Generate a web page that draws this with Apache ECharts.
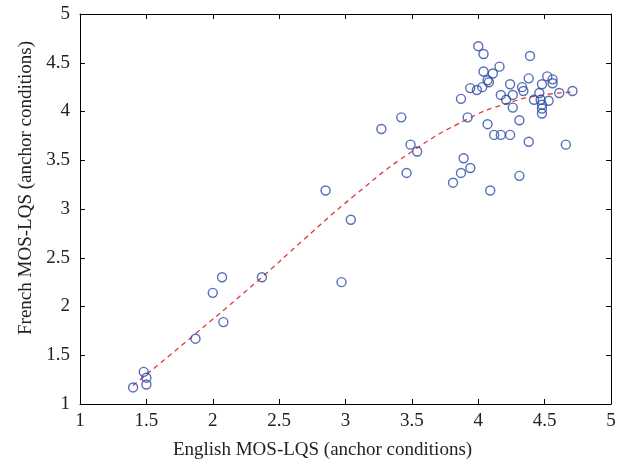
<!DOCTYPE html>
<html><head><meta charset="utf-8">
<script src="https://cdn.jsdelivr.net/npm/echarts@6/dist/echarts.min.js"></script>
<style>html,body{margin:0;padding:0;background:#fff}#c{width:632px;height:467px}</style>
</head><body><div id="c"></div>
<script>
const xTicks = [1, 1.5, 2, 2.5, 3, 3.5, 4, 4.5, 5];
const yTicks = [1, 1.5, 2, 2.5, 3, 3.5, 4, 4.5, 5];
const englishMOS = [1.40,1.48,1.50,1.50,1.87,2.00,2.07,2.08,2.37,2.85,2.97,3.04,3.27,3.42,3.46,3.49,3.54,3.81,3.87,3.89,3.94,3.87,3.92,3.94,3.99,4.00,4.03,4.04,4.04,4.07,4.08,4.07,4.09,4.11,4.16,4.12,4.17,4.24,4.17,4.21,4.24,4.26,4.26,4.31,4.31,4.33,4.34,4.38,4.38,4.39,4.42,4.46,4.48,4.47,4.48,4.48,4.48,4.53,4.52,4.56,4.56,4.61,4.66,4.71];
const frenchMOS  = [1.17,1.33,1.27,1.20,1.67,2.14,2.30,1.84,2.30,3.19,2.25,2.89,3.82,3.94,3.37,3.66,3.59,3.27,3.37,3.52,3.42,4.13,3.94,4.24,4.22,4.67,4.25,4.59,4.41,4.32,4.30,3.87,3.19,4.39,4.46,3.76,3.76,3.76,4.17,4.12,4.28,4.17,4.04,3.91,3.34,4.25,4.21,4.34,3.69,4.57,4.12,4.19,4.28,4.12,4.07,4.03,3.98,4.11,4.36,4.33,4.29,4.19,3.66,4.21];
const fitX = [1.40,1.87,2.37,2.68,3.06,3.49,3.93,4.21,4.44,4.72];
const fitY = [1.19,1.72,2.30,2.68,3.13,3.58,3.93,4.08,4.16,4.20];

const font = '"Liberation Serif", "DejaVu Serif", serif';
const chart = echarts.init(document.getElementById('c'), null, {renderer:'canvas'});
const axisCommon = {
  min: 1, max: 5, interval: 0.5,
  axisLine: {show: true, lineStyle: {color: '#000', width: 1}},
  axisTick: {show: true, inside: true, length: 5, lineStyle: {color: '#000'}},
  splitLine: {show: false}
};
chart.setOption({
  animation: false,
  grid: {left: 80, right: 21, top: 14, bottom: 63, containLabel: false, outerBoundsMode: 'none'},
  xAxis: [
    Object.assign({}, axisCommon, {
      type: 'value', position: 'bottom',
      axisLabel: {margin: 8, color: '#222', fontFamily: font, fontSize: 19,
        formatter: v => xTicks.includes(v) ? String(v) : ''},
      name: 'English MOS-LQS (anchor conditions)', nameLocation: 'middle', nameGap: 37,
      nameTextStyle: {color: '#222', fontFamily: font, fontSize: 19, padding: [0, 46, 0, 0]}
    }),
    Object.assign({}, axisCommon, {type: 'value', position: 'top', axisLabel: {show: false}})
  ],
  yAxis: [
    Object.assign({}, axisCommon, {
      type: 'value', position: 'left',
      axisLabel: {margin: 10, color: '#222', fontFamily: font, fontSize: 19,
        formatter: v => yTicks.includes(v) ? String(v) : ''},
      name: 'French MOS-LQS (anchor conditions)', nameLocation: 'middle', nameGap: 44,
      nameTextStyle: {color: '#222', fontFamily: font, fontSize: 19, padding: [0, 0, 0, 42]}
    }),
    Object.assign({}, axisCommon, {type: 'value', position: 'right', axisLabel: {show: false}})
  ],
  series: [
    {
      type: 'line', data: fitX.map((x, i) => [x, fitY[i]]), smooth: true, symbol: 'none',
      lineStyle: {color: '#e0393e', width: 1.3, type: [5, 4]}, z: 2
    },
    {
      type: 'scatter', data: englishMOS.map((x, i) => [x, frenchMOS[i]]),
      symbol: 'circle', symbolSize: 9,
      itemStyle: {color: 'rgba(255,255,255,0)', borderColor: '#2b4aa6', borderWidth: 1.4}, z: 3
    }
  ]
});
</script></body></html>
